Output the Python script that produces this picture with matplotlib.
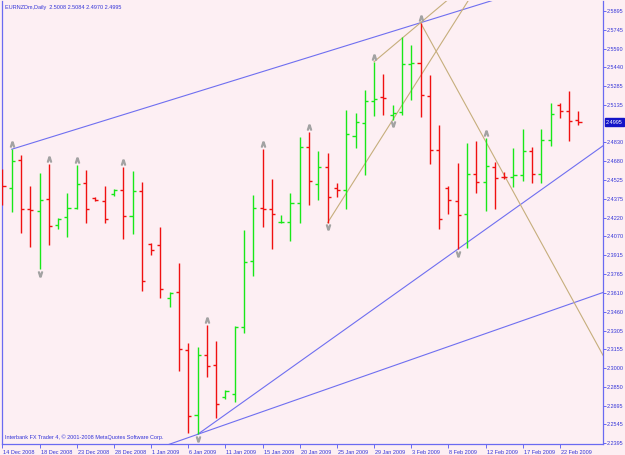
import matplotlib
matplotlib.use("Agg")
import matplotlib.pyplot as plt
from matplotlib.transforms import ScaledTranslation
import numpy as np

# ---------------- data ----------------
title_text = "EURNZDm,Daily  2.5008 2.5084 2.4970 2.4995"
footer_text = "Interbank FX Trader 4, \u00a9 2001-2008 MetaQuotes Software Corp."

opens = [2.4567, 2.4464, 2.4688, 2.4289, 2.4275, 2.4370, 2.4164, 2.4226, 2.4295, 2.4504,
         2.4378, 2.4356, 2.4413, 2.4443, 2.4232, 2.4437, 2.4005, 2.3997, 2.3568, 2.3619,
         2.3149, 2.2623, 2.3106, 2.3030, 2.2771, 2.2793, 2.3333, 2.3867, 2.4297, 2.4289,
         2.4183, 2.4188, 2.4342, 2.4796, 2.4494, 2.4631, 2.4461, 2.4445, 2.4885, 2.4990,
         2.5168, 2.5196, 2.5053, 2.5074, 2.5463, 2.5471, 2.5209, 2.4769, 2.4459, 2.4356,
         2.4251, 2.4577, 2.4507, 2.4634, 2.4553, 2.4550, 2.4567, 2.4761, 2.4572, 2.4850,
         2.5134, 2.5087, 2.5008]
highs = [2.4615, 2.4775, 2.4729, 2.4480, 2.4580, 2.4656, 2.4216, 2.4423, 2.4648, 2.4605,
         2.4386, 2.4477, 2.4451, 2.4634, 2.4601, 2.4507, 2.4013, 2.4143, 2.3616, 2.3851,
         2.3203, 2.3173, 2.3352, 2.3222, 2.2825, 2.3343, 2.4121, 2.4405, 2.4775, 2.4534,
         2.4243, 2.4423, 2.4877, 2.4917, 2.4761, 2.4742, 2.4499, 2.5093, 2.5071, 2.5253,
         2.5484, 2.5385, 2.5134, 2.5687, 2.5620, 2.5800, 2.5377, 2.4972, 2.4477, 2.4666,
         2.4823, 2.4844, 2.4864, 2.4674, 2.4593, 2.4783, 2.4937, 2.4791, 2.4937, 2.5152,
         2.5147, 2.5247, 2.5084]
lows = [2.4324, 2.4269, 2.4099, 2.3986, 2.3803, 2.4002, 2.4132, 2.4067, 2.4291, 2.4175,
        2.4358, 2.4175, 2.4396, 2.4048, 2.4091, 2.3627, 2.3919, 2.3568, 2.3500, 2.2981,
        2.2478, 2.2465, 2.2933, 2.2596, 2.2750, 2.2730, 2.3289, 2.3748, 2.4143, 2.3970,
        2.4175, 2.4032, 2.4180, 2.4321, 2.4364, 2.4180, 2.4386, 2.4289, 2.4783, 2.4569,
        2.5047, 2.5053, 2.5012, 2.5053, 2.5174, 2.5039, 2.4653, 2.4129, 2.4248, 2.3965,
        2.3975, 2.4418, 2.4277, 2.4291, 2.4532, 2.4467, 2.4520, 2.4499, 2.4499, 2.4801,
        2.5026, 2.4844, 2.4970]
closes = [2.4477, 2.4680, 2.4291, 2.4281, 2.4364, 2.4156, 2.4208, 2.4297, 2.4494, 2.4294,
          2.4367, 2.4208, 2.4443, 2.4232, 2.4439, 2.3710, 2.3959, 2.3646, 2.3608, 2.3155,
          2.2617, 2.3109, 2.3022, 2.2714, 2.2819, 2.3333, 2.3864, 2.4302, 2.4291, 2.4248,
          2.4188, 2.4342, 2.4796, 2.4518, 2.4634, 2.4391, 2.4445, 2.4896, 2.4993, 2.5166,
          2.5182, 2.5188, 2.5071, 2.5463, 2.5471, 2.5215, 2.4769, 2.4210, 2.4362, 2.4243,
          2.4575, 2.4507, 2.4639, 2.4540, 2.4548, 2.4567, 2.4761, 2.4572, 2.4850, 2.5058,
          2.5087, 2.5006, 2.4995]

fractal_up = [1, 5, 8, 13, 22, 28, 33, 40, 45, 52]
fractal_down = [4, 21, 35, 42, 49]

xtick_bars = [0, 4, 8, 12, 16, 20, 24, 28, 32, 36, 40, 44, 48, 52, 56, 60]
xtick_labels = ["14 Dec 2008", "18 Dec 2008", "23 Dec 2008", "28 Dec 2008", "1 Jan 2009",
                "6 Jan 2009", "11 Jan 2009", "15 Jan 2009", "20 Jan 2009", "25 Jan 2009",
                "29 Jan 2009", "3 Feb 2009", "8 Feb 2009", "12 Feb 2009", "17 Feb 2009",
                "22 Feb 2009"]
ytick_values = [2.5895, 2.5745, 2.5590, 2.5440, 2.5285, 2.5135, 2.4830, 2.4680, 2.4525,
                2.4375, 2.4220, 2.4070, 2.3915, 2.3765, 2.3610, 2.3460, 2.3305, 2.3155,
                2.3000, 2.2850, 2.2695, 2.2545, 2.2395]
ytick_labels = ["%.4f" % v for v in ytick_values]
last_price = 2.4995

# trend lines: two anchor points (bar index, price), drawn as rays
blue_rays = [((1, 2.4775), (45, 2.5800)),
             ((21, 2.2465), (49, 2.3965))]
blue_full = [((21, 2.2465), (62, 2.3545))]
tan_rays = [((35, 2.4180), (42, 2.5012)),
            ((40, 2.5484), (45, 2.5800)),
            ((45, 2.5800), (52, 2.4840))]

# ---------------- styling ----------------
BG = "#FDEFF3"
FG = "#3535D8"
AX = "#6A6AF2"
GREEN = "#18E818"
RED = "#F01010"
FONT = "Liberation Sans"
FS = 4.0

xmin, xmax = -0.05, 64.64
ymin, ymax = 2.2387, 2.5976

fig = plt.figure(figsize=(6.25, 4.55), dpi=100, facecolor=BG)
ax = fig.add_axes([2 / 625, 11 / 455, 601 / 625, 443 / 455], facecolor=BG)
ax.set_xlim(xmin, xmax)
ax.set_ylim(ymin, ymax)

n = len(opens)
x = np.arange(n)
o = np.array(opens); h = np.array(highs); l = np.array(lows); c = np.array(closes)
cols = [GREEN if cc > oo else RED for oo, cc in zip(o, c)]
tk = 0.33
ax.vlines(x, l, h, colors=cols, lw=1.0, zorder=3)
ax.hlines(o, x - tk, x, colors=cols, lw=1.0, zorder=3)
ax.hlines(c, x, x + tk, colors=cols, lw=1.0, zorder=3)

# trend lines
def ray(p1, p2, full=False):
    (i1, v1), (i2, v2) = p1, p2
    s = (v2 - v1) / (i2 - i1)
    xs0 = xmin - 5 if full else i1
    xs = np.array([xs0, xmax + 5])
    return xs, v1 + s * (xs - i1)

for p1, p2 in blue_rays:
    xs, ys = ray(p1, p2)
    ax.plot(xs, ys, color="#6F6FF0", lw=0.8, zorder=2)
for p1, p2 in blue_full:
    xs, ys = ray(p1, p2, full=True)
    ax.plot(xs, ys, color="#6F6FF0", lw=0.8, zorder=2)
for p1, p2 in tan_rays:
    xs, ys = ray(p1, p2)
    ax.plot(xs, ys, color="#C6AE7C", lw=0.8, zorder=2)

# fractal markers
up_off = ax.transData + ScaledTranslation(0, 5.0 / 100, fig.dpi_scale_trans)
dn_off = ax.transData + ScaledTranslation(0, -4.5 / 100, fig.dpi_scale_trans)
ax.plot(fractal_up, [highs[i] for i in fractal_up], ls="none", marker=r"$\wedge$",
        ms=3.6, color="#A2A2A2", transform=up_off, zorder=4, clip_on=False)
ax.plot(fractal_down, [lows[i] for i in fractal_down], ls="none", marker=r"$\vee$",
        ms=3.6, color="#A2A2A2", transform=dn_off, zorder=4, clip_on=False)

# spines
for s in ["left", "bottom", "right"]:
    ax.spines[s].set_color(AX)
    ax.spines[s].set_linewidth(0.9)
ax.spines["top"].set_visible(False)

# x axis
ax.set_xticks(xtick_bars)
ax.set_xticklabels(xtick_labels, fontsize=FS, color=FG, family=FONT, ha="left")
ax.tick_params(axis="x", direction="out", length=3, width=0.7, color=AX, pad=1)
for lbl in ax.get_xticklabels():
    lbl.set_transform(lbl.get_transform() + ScaledTranslation(1 / 100, 0, fig.dpi_scale_trans))

# y axis
ax.yaxis.tick_right()
ax.set_yticks(ytick_values)
ax.set_yticklabels(ytick_labels, fontsize=FS, color=FG, family=FONT)
ax.tick_params(axis="y", direction="out", length=2, width=0.7, color=AX, pad=0.6)

# current price box
ax.text(1.0 + 3 / 601, last_price, "%.4f" % last_price, transform=ax.get_yaxis_transform(),
        fontsize=FS, color="white", family=FONT, va="center", ha="left",
        bbox=dict(boxstyle="square,pad=0.2", fc="#1414C8", ec="#1414C8"), clip_on=False, zorder=6)

# texts
ax.text(3 / 601, 1 - 4 / 443, title_text, transform=ax.transAxes, fontsize=FS, color=FG,
        family=FONT, va="top", ha="left")
ax.text(3 / 601, 4 / 443, footer_text, transform=ax.transAxes, fontsize=FS, color=FG,
        family=FONT, va="bottom", ha="left")

fig.savefig("out.png", dpi=100, facecolor=BG)
